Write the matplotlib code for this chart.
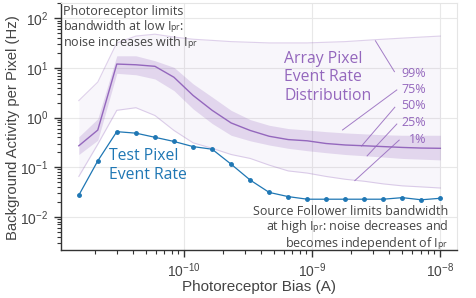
import matplotlib
matplotlib.use("Agg")
import matplotlib.pyplot as plt
from matplotlib.ticker import LogLocator, NullFormatter, FixedLocator

try:
    import matplotlib._mathtext as _mt
    _mt.FontConstantsBase.sub1 = 0.12
    _mt.FontConstantsBase.subdrop = 0.2
except Exception:
    pass

# ---- data ----
bias = [1.50e-11, 2.11e-11, 2.97e-11, 4.19e-11, 5.90e-11, 8.30e-11, 1.17e-10, 1.65e-10,
        2.32e-10, 3.27e-10, 4.60e-10, 6.48e-10, 9.12e-10, 1.28e-9, 1.81e-9, 2.54e-9,
        3.58e-9, 5.04e-9, 7.10e-9, 1.0e-8]
test_pixel = [0.0272, 0.134, 0.52, 0.485, 0.40, 0.33, 0.26, 0.23, 0.115, 0.055,
              0.031, 0.0255, 0.0226, 0.0226, 0.0226, 0.0226, 0.0226, 0.0243, 0.022, 0.0236]
p99 = [2.2, 5.2, 32, 44, 48, 42, 38, 36, 34, 33, 32, 32, 32, 33, 34, 36, 38, 40, 42, 44]
p75 = [0.41, 0.95, 17.6, 17.6, 14, 10.3, 4.8, 2.6, 1.4, 0.91, 0.70, 0.60, 0.56, 0.52,
       0.49, 0.47, 0.45, 0.44, 0.44, 0.44]
p50 = [0.27, 0.56, 12, 11.6, 10.8, 6.5, 2.8, 1.4, 0.78, 0.55, 0.42, 0.36, 0.34, 0.30,
       0.28, 0.27, 0.26, 0.25, 0.243, 0.24]
p25 = [0.18, 0.35, 7.8, 7.3, 6.0, 3.5, 1.5, 0.76, 0.44, 0.34, 0.28, 0.24, 0.215, 0.196,
       0.18, 0.17, 0.16, 0.15, 0.145, 0.14]
p1 = [0.065, 0.29, 1.4, 1.58, 1.1, 0.55, 0.31, 0.24, 0.18, 0.15, 0.11, 0.084, 0.076,
      0.065, 0.057, 0.052, 0.046, 0.042, 0.040, 0.038]
pct_labels = ["99%", "75%", "50%", "25%", "1%"]
x_major = [1e-10, 1e-9, 1e-8]
y_major = [1e-2, 1e-1, 1e0, 1e1, 1e2]

PURPLE = "#9467bd"
BLUE = "#1f77b4"
GRAY = "#444444"
ANN_FONT = "Open Sans"
AX_FONT = "Liberation Sans"

plt.rcParams["font.family"] = AX_FONT
plt.rcParams["mathtext.default"] = "regular"

fig = plt.figure(figsize=(4.76, 2.98), dpi=100)
ax = fig.add_axes([61/476, 48/298, 396/476, 247/298])
ax.set_xscale("log")
ax.set_yscale("log")
ax.set_xlim(10**-10.963, 10**-7.87)
ax.set_ylim(10**-2.67, 10**2.31)

# distribution bands
ax.fill_between(bias, p1, p99, color=PURPLE, alpha=0.06, lw=0)
ax.plot(bias, p99, color=PURPLE, alpha=0.3, lw=0.8)
ax.plot(bias, p1, color=PURPLE, alpha=0.3, lw=0.8)
ax.fill_between(bias, p25, p75, color=PURPLE, alpha=0.22, lw=0)
ax.plot(bias, p50, color=PURPLE, lw=1.0)

# test pixel
ax.plot(bias, test_pixel, color=BLUE, lw=0.9, marker="o", ms=2.5)

# grid and axes style
ax.grid(True, which="major", color="#e8e8e8", lw=0.8)
ax.set_axisbelow(True)
for s in ["top", "right"]:
    ax.spines[s].set_color("#e5e5e5")
    ax.spines[s].set_linewidth(0.8)
for s in ["left", "bottom"]:
    ax.spines[s].set_color("#333333")
    ax.spines[s].set_linewidth(1.0)
ax.xaxis.set_major_locator(FixedLocator(x_major))
ax.yaxis.set_major_locator(FixedLocator(y_major))
ax.xaxis.set_minor_locator(LogLocator(base=10, subs=range(2, 10), numticks=20))
ax.yaxis.set_minor_locator(LogLocator(base=10, subs=range(2, 10), numticks=20))
ax.xaxis.set_minor_formatter(NullFormatter())
ax.yaxis.set_minor_formatter(NullFormatter())
ax.tick_params(which="major", direction="out", length=5, width=1, color="#333333",
               labelsize=10, labelcolor=GRAY, pad=3)
ax.tick_params(which="minor", direction="out", length=3, width=0.8, color="#333333")
ax.tick_params(axis="y", which="major", pad=4)

ax.set_xlabel("Photoreceptor Bias (A)", fontsize=11, color=GRAY)
ax.set_ylabel("Background Activity per Pixel (Hz)", fontsize=10.7, color=GRAY)
ax.xaxis.set_label_coords(0.501, -0.15)
ax.yaxis.set_label_coords(-0.12, 0.496)
ax.xaxis.label.set_va("center")
ax.yaxis.label.set_va("center")

IPR = r"$\mathregular{I_{pr}}$"
top_lines = ["Photoreceptor limits", "bandwidth at low " + IPR + ":",
             "noise increases with " + IPR]
top_y = [0.953, 0.890, 0.826]
for line, yy in zip(top_lines, top_y):
    ax.text(0.005, yy, line, transform=ax.transAxes, ha="left", va="baseline",
            fontsize=9.0, color=GRAY, family=ANN_FONT)

bot_lines = ["Source Follower limits bandwidth", "at high " + IPR + ": noise decreases and",
             "becomes independent of " + IPR]
bot_y = [0.142, 0.081, 0.0134]
for line, yy in zip(bot_lines, bot_y):
    ax.text(0.977, yy, line, transform=ax.transAxes, ha="right", va="baseline",
            fontsize=9.0, color=GRAY, family=ANN_FONT)

ax.text(0.564, 0.699, "Array Pixel\nEvent Rate\nDistribution", transform=ax.transAxes,
        ha="left", va="center", fontsize=11.3, color=PURPLE, family=ANN_FONT, linespacing=1.22)
ax.text(0.122, 0.343, "Test Pixel\nEvent Rate", transform=ax.transAxes,
        ha="left", va="center", fontsize=11.3, color=BLUE, family=ANN_FONT, linespacing=1.22)

label_y = [0.716, 0.648, 0.583, 0.517, 0.449]
tips = [(0.794, 0.847), (0.711, 0.486), (0.759, 0.421), (0.773, 0.381), (0.742, 0.281)]
tails = [(0.842, 0.722), (0.848, 0.648), (0.843, 0.578), (0.848, 0.510), (0.854, 0.445)]
for lab, ly, tip, tail in zip(pct_labels, label_y, tips, tails):
    ax.text(0.922, ly, lab, transform=ax.transAxes, ha="right", va="center",
            fontsize=9, color=PURPLE, family=ANN_FONT)
    ax.plot([tip[0], tail[0]], [tip[1], tail[1]], transform=ax.transAxes,
            color=PURPLE, lw=0.7, alpha=0.85)

fig.savefig("out.png", dpi=100)
